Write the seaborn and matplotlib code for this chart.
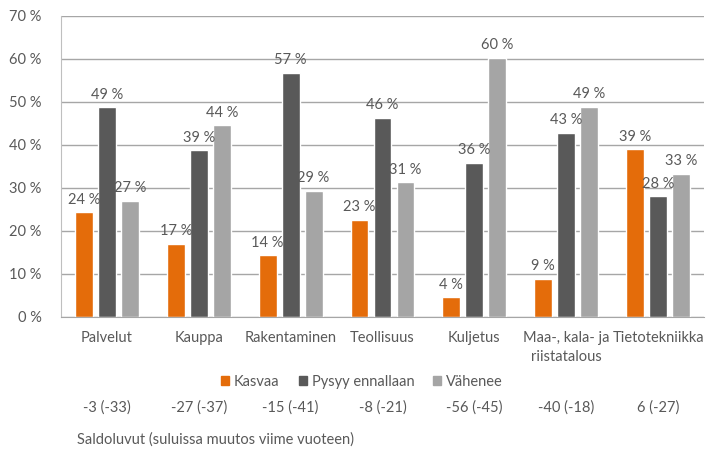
import pandas as pd
import numpy as np
import matplotlib.pyplot as plt
import matplotlib.transforms as mtransforms
import seaborn as sns

# data
toimialat = ['Palvelut', 'Kauppa', 'Rakentaminen', 'Teollisuus', 'Kuljetus',
             'Maa-, kala- ja\nriistatalous', 'Tietotekniikka']
kasvaa = [24.3, 17.0, 14.3, 22.6, 4.5, 8.8, 38.9]
pysyy = [48.7, 38.7, 56.7, 46.3, 35.8, 42.8, 28.0]
vahenee = [27.0, 44.5, 29.3, 31.3, 60.2, 48.8, 33.3]
saldot = ['-3 (-33)', '-27 (-37)', '-15 (-41)', '-8 (-21)', '-56 (-45)', '-40 (-18)', '6 (-27)']
sarjat = ['Kasvaa', 'Pysyy ennallaan', 'Vähenee']
varit = ['#E46C0A', '#595959', '#A5A5A5']

df = pd.DataFrame({
    'toimiala': toimialat * 3,
    'sarja': np.repeat(sarjat, len(toimialat)),
    'arvo': kasvaa + pysyy + vahenee,
})

sns.set_style('white')
plt.rcParams['font.family'] = ['Lato', 'DejaVu Sans']
tekstivari = '#595959'
fs = 10.5

fig = plt.figure(figsize=(7.06, 4.53), dpi=100)
ax = fig.add_axes([61 / 706, 1 - 316.7 / 453, 643 / 706, 301 / 453])

sns.barplot(data=df, x='toimiala', y='arvo', hue='sarja', order=toimialat,
            hue_order=sarjat, palette=varit, width=0.75, gap=0.22,
            saturation=1, legend=False, ax=ax)

for cont in ax.containers:
    ax.bar_label(cont, labels=[f'{b.get_height():.0f} %' for b in cont],
                 padding=4, fontsize=fs, color=tekstivari)

ax.set_ylim(0, 70)
ax.set_xlim(-0.5, len(toimialat) - 0.5)
ax.set_yticks(range(0, 71, 10))
ax.set_yticklabels([f'{t} %' for t in range(0, 71, 10)])
ax.yaxis.grid(True, color='#A6A6A6', linewidth=1)
ax.set_axisbelow(True)
for s in ['top', 'right']:
    ax.spines[s].set_visible(False)
ax.spines['left'].set_color('#BFBFBF')
ax.spines['bottom'].set_color('#A6A6A6')
ax.tick_params(axis='both', length=0, labelsize=fs, labelcolor=tekstivari)
ax.tick_params(axis='x', pad=10)
ax.tick_params(axis='y', pad=14)
for lab in ax.get_xticklabels():
    lab.set_linespacing(1.45)
ax.set_xlabel('')
ax.set_ylabel('')

# legend
kahvat = [plt.Rectangle((0, 0), 1, 1, color=c) for c in varit]
fig.legend(kahvat, sarjat, loc='center', bbox_to_anchor=(362 / 706, 1 - 382 / 453),
           ncol=3, frameon=False, handlelength=0.55, handleheight=0.55,
           handletextpad=0.35, columnspacing=1.3, fontsize=fs, labelcolor=tekstivari)

# saldoluvut
tr = mtransforms.blended_transform_factory(ax.transData, fig.transFigure)
for i, s in enumerate(saldot):
    ax.text(i, 1 - 408 / 453, s, transform=tr, ha='center', va='center',
            fontsize=fs, color=tekstivari)
fig.text(77 / 706, 1 - 440 / 453, 'Saldoluvut (suluissa muutos viime vuoteen)',
         ha='left', va='center', fontsize=fs, color=tekstivari)

fig.savefig('out.png', dpi=100)
